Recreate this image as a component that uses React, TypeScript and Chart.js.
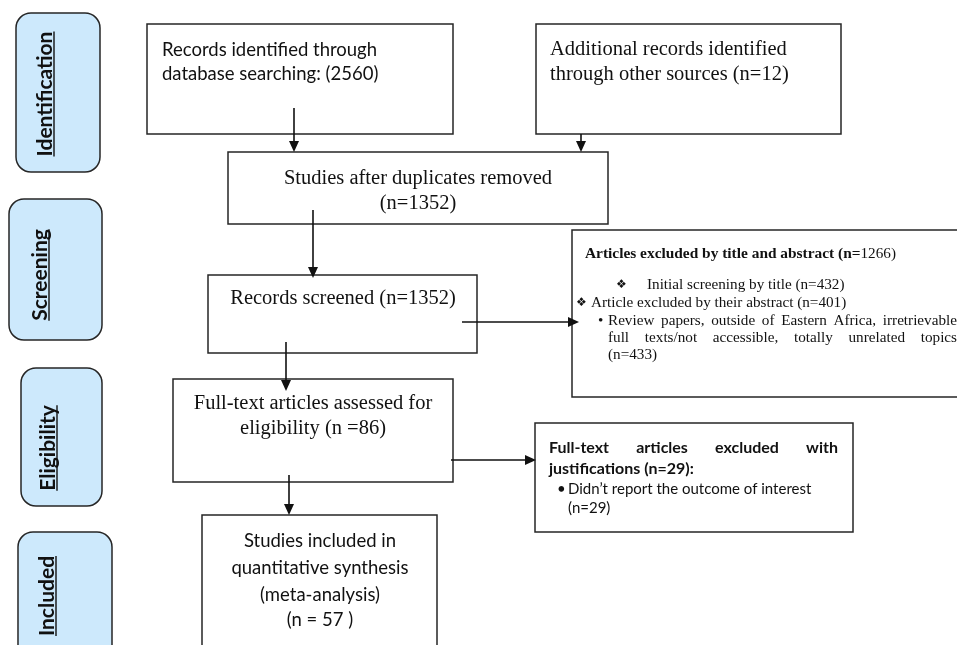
import React, { useEffect, useRef } from 'react';
import { Chart, registerables } from 'chart.js';

Chart.register(...registerables);

// ---------------- data ----------------
const stageLabels = ['Identification', 'Screening', 'Eligibility', 'Included'];
// database search, other sources, after duplicates, screened, full-text assessed, included
const flowCounts = [2560, 12, 1352, 1352, 86, 57];
// excluded by title & abstract: total, by title, by abstract, other reasons
const titleAbstractExcluded = [1266, 432, 401, 433];
// excluded at full text: total, did not report outcome
const fullTextExcluded = [29, 29];

// ---------------- layout (data units = page pixels) ----------------
const W = 957;
const H = 645;
const SERIF = '"Liberation Serif", "Times New Roman", serif';
const SANS = 'Lato, "Liberation Sans", sans-serif';
const SYM = '"DejaVu Sans", "Liberation Serif", serif';

type Box = { x0: number; y0: number; x1: number; y1: number };

const stageBoxes: Box[] = [
  { x0: 16, y0: 13, x1: 100, y1: 172 },
  { x0: 9, y0: 199, x1: 102, y1: 340 },
  { x0: 21, y0: 368, x1: 102, y1: 506 },
  { x0: 18, y0: 532, x1: 112, y1: 668 },
];
const stageTextAnchor = [
  { x: 52, y: 94 },
  { x: 47, y: 275 },
  { x: 55, y: 448 },
  { x: 54, y: 596 },
];

const flowBoxes: Box[] = [
  { x0: 147, y0: 24, x1: 453, y1: 134 },
  { x0: 536, y0: 24, x1: 841, y1: 134 },
  { x0: 228, y0: 152, x1: 608, y1: 224 },
  { x0: 208, y0: 275, x1: 477, y1: 353 },
  { x0: 572, y0: 230, x1: 980, y1: 397 },
  { x0: 173, y0: 379, x1: 453, y1: 482 },
  { x0: 535, y0: 423, x1: 853, y1: 532 },
  { x0: 202, y0: 515, x1: 437, y1: 668 },
];

const arrows = [
  [294, 108, 294, 152],
  [581, 134, 581, 152],
  [313, 210, 313, 278],
  [286, 342, 286, 391],
  [289, 475, 289, 515],
  [462, 322, 579, 322],
  [451, 460, 536, 460],
];

type TextItem = {
  parts: { t: string; font: string }[];
  x: number;
  y: number;
  align?: 'left' | 'center';
  justify?: number; // right edge for justified lines
};

const serif20 = `20.5px ${SERIF}`;
const sans18 = `18.5px ${SANS}`;
const sansB16 = `bold 16px ${SANS}`;
const sans16 = `15px ${SANS}`;
const serifB15 = `bold 15.4px ${SERIF}`;
const serif15 = `15.2px ${SERIF}`;
const sym12 = `12px ${SYM}`;

const textItems: TextItem[] = [
  // database searching
  { parts: [{ t: 'Records identified through', font: sans18 }], x: 162, y: 56 },
  { parts: [{ t: `database searching: (${flowCounts[0]})`, font: sans18 }], x: 162, y: 80 },
  // other sources
  { parts: [{ t: 'Additional records identified', font: serif20 }], x: 550, y: 55 },
  { parts: [{ t: `through other sources (n=${flowCounts[1]})`, font: serif20 }], x: 550, y: 80 },
  // duplicates removed
  { parts: [{ t: 'Studies after duplicates removed', font: serif20 }], x: 418, y: 184, align: 'center' },
  { parts: [{ t: `(n=${flowCounts[2]})`, font: serif20 }], x: 418, y: 209, align: 'center' },
  // screened
  { parts: [{ t: `Records screened (n=${flowCounts[3]})`, font: serif20 }], x: 343, y: 304, align: 'center' },
  // excluded title / abstract
  {
    parts: [
      { t: 'Articles excluded by title and abstract (n=', font: serifB15 },
      { t: `${titleAbstractExcluded[0]})`, font: serif15 },
    ],
    x: 585,
    y: 258,
  },
  { parts: [{ t: '❖', font: sym12 }], x: 616, y: 288 },
  { parts: [{ t: `Initial screening by title (n=${titleAbstractExcluded[1]})`, font: serif15 }], x: 647, y: 289 },
  { parts: [{ t: '❖', font: sym12 }], x: 576, y: 306 },
  { parts: [{ t: `Article excluded by their abstract (n=${titleAbstractExcluded[2]})`, font: serif15 }], x: 591, y: 307 },
  { parts: [{ t: '•', font: serif15 }], x: 598, y: 325 },
  {
    parts: [{ t: 'Review papers, outside of Eastern Africa, irretrievable', font: serif15 }],
    x: 608,
    y: 325,
    justify: 957,
  },
  {
    parts: [{ t: 'full texts/not accessible, totally unrelated topics', font: serif15 }],
    x: 608,
    y: 342,
    justify: 957,
  },
  { parts: [{ t: `(n=${titleAbstractExcluded[3]})`, font: serif15 }], x: 608, y: 359 },
  // full-text assessed
  { parts: [{ t: 'Full-text articles assessed for', font: serif20 }], x: 313, y: 409, align: 'center' },
  { parts: [{ t: `eligibility (n =${flowCounts[4]})`, font: serif20 }], x: 313, y: 434, align: 'center' },
  // full-text excluded
  { parts: [{ t: 'Full-text articles excluded with', font: sansB16 }], x: 549, y: 453, justify: 838 },
  { parts: [{ t: `justifications (n=${fullTextExcluded[0]}):`, font: sansB16 }], x: 549, y: 474 },
  { parts: [{ t: '•', font: sans16 }], x: 557, y: 494 },
  { parts: [{ t: 'Didn’t report the outcome of interest', font: sans16 }], x: 568, y: 494 },
  { parts: [{ t: `(n=${fullTextExcluded[1]})`, font: sans16 }], x: 568, y: 513 },
  // included
  { parts: [{ t: 'Studies included in', font: sans18 }], x: 320, y: 547, align: 'center' },
  { parts: [{ t: 'quantitative synthesis', font: sans18 }], x: 320, y: 574, align: 'center' },
  { parts: [{ t: '(meta-analysis)', font: sans18 }], x: 320, y: 601, align: 'center' },
  { parts: [{ t: `(n = ${flowCounts[5]} )`, font: sans18 }], x: 320, y: 626, align: 'center' },
];

const LINE = '#262626';
const STAGE_FILL = '#cde9fc';

// ---------------- plugin ----------------
const flowPlugin = {
  id: 'flowDiagram',
  afterDraw(chart: any) {
    const ctx: CanvasRenderingContext2D = chart.ctx;
    const xs = chart.scales.x;
    const ys = chart.scales.y;
    const px = (v: number) => xs.getPixelForValue(v);
    const py = (v: number) => ys.getPixelForValue(v);

    ctx.save();

    // stage boxes
    stageBoxes.forEach((b, i) => {
      const x0 = px(b.x0), y0 = py(b.y0), x1 = px(b.x1), y1 = py(b.y1);
      ctx.beginPath();
      (ctx as any).roundRect(x0, y0, x1 - x0, y1 - y0, 15);
      ctx.fillStyle = STAGE_FILL;
      ctx.fill();
      ctx.lineWidth = 1.5;
      ctx.strokeStyle = LINE;
      ctx.stroke();

      const a = stageTextAnchor[i];
      ctx.save();
      ctx.translate(px(a.x), py(a.y));
      ctx.rotate(-Math.PI / 2);
      ctx.font = `bold 21px ${SANS}`;
      ctx.fillStyle = '#111';
      ctx.textAlign = 'center';
      ctx.textBaseline = 'alphabetic';
      ctx.fillText(stageLabels[i], 0, 0);
      const w = ctx.measureText(stageLabels[i]).width;
      ctx.beginPath();
      ctx.moveTo(-w / 2, 2);
      ctx.lineTo(w / 2, 2);
      ctx.lineWidth = 1.4;
      ctx.strokeStyle = '#111';
      ctx.stroke();
      ctx.restore();
    });

    // flow boxes
    flowBoxes.forEach((b) => {
      const x0 = px(b.x0), y0 = py(b.y0), x1 = px(b.x1), y1 = py(b.y1);
      ctx.beginPath();
      ctx.rect(x0, y0, x1 - x0, y1 - y0);
      ctx.fillStyle = '#ffffff';
      ctx.fill();
      ctx.lineWidth = 1.5;
      ctx.strokeStyle = LINE;
      ctx.stroke();
    });

    // arrows
    arrows.forEach(([ax0, ay0, ax1, ay1]) => {
      const x0 = px(ax0), y0 = py(ay0), x1 = px(ax1), y1 = py(ay1);
      const ang = Math.atan2(y1 - y0, x1 - x0);
      const L = 11, Hw = 5;
      ctx.beginPath();
      ctx.moveTo(x0, y0);
      ctx.lineTo(x1 - L * Math.cos(ang), y1 - L * Math.sin(ang));
      ctx.lineWidth = 1.6;
      ctx.strokeStyle = '#111';
      ctx.stroke();
      ctx.beginPath();
      ctx.moveTo(x1, y1);
      ctx.lineTo(
        x1 - L * Math.cos(ang) + Hw * Math.sin(ang),
        y1 - L * Math.sin(ang) - Hw * Math.cos(ang)
      );
      ctx.lineTo(
        x1 - L * Math.cos(ang) - Hw * Math.sin(ang),
        y1 - L * Math.sin(ang) + Hw * Math.cos(ang)
      );
      ctx.closePath();
      ctx.fillStyle = '#111';
      ctx.fill();
    });

    // text
    ctx.fillStyle = '#111';
    ctx.textBaseline = 'alphabetic';
    ctx.textAlign = 'left';
    textItems.forEach((it) => {
      const y = py(it.y);
      if (it.justify !== undefined) {
        const p = it.parts[0];
        ctx.font = p.font;
        const words = p.t.split(' ');
        const widths = words.map((w) => ctx.measureText(w).width);
        const total = widths.reduce((s, v) => s + v, 0);
        const x0 = px(it.x);
        const avail = px(it.justify) - x0;
        const gap = words.length > 1 ? (avail - total) / (words.length - 1) : 0;
        let x = x0;
        words.forEach((w, k) => {
          ctx.fillText(w, x, y);
          x += widths[k] + gap;
        });
        return;
      }
      let totalW = 0;
      it.parts.forEach((p) => {
        ctx.font = p.font;
        totalW += ctx.measureText(p.t).width;
      });
      let x = it.align === 'center' ? px(it.x) - totalW / 2 : px(it.x);
      it.parts.forEach((p) => {
        ctx.font = p.font;
        ctx.fillText(p.t, x, y);
        x += ctx.measureText(p.t).width;
      });
    });

    ctx.restore();
  },
};

export default function App() {
  const ref = useRef<HTMLCanvasElement | null>(null);

  useEffect(() => {
    if (!ref.current) return;
    const chart = new Chart(ref.current, {
      type: 'scatter',
      data: { datasets: [{ data: [], showLine: false }] },
      options: {
        animation: false,
        responsive: false,
        events: [],
        layout: { padding: 0 },
        plugins: { legend: { display: false }, tooltip: { enabled: false } },
        scales: {
          x: { type: 'linear', min: 0, max: W, display: false },
          y: { type: 'linear', min: 0, max: H, reverse: true, display: false },
        },
      },
      plugins: [flowPlugin],
    } as any);
    return () => chart.destroy();
  }, []);

  return (
    <div style={{ position: 'absolute', left: 0, top: 0, width: W, height: H, background: '#fff', overflow: 'hidden' }}>
      <canvas ref={ref} width={W} height={H} style={{ display: 'block', width: W, height: H }} />
    </div>
  );
}
